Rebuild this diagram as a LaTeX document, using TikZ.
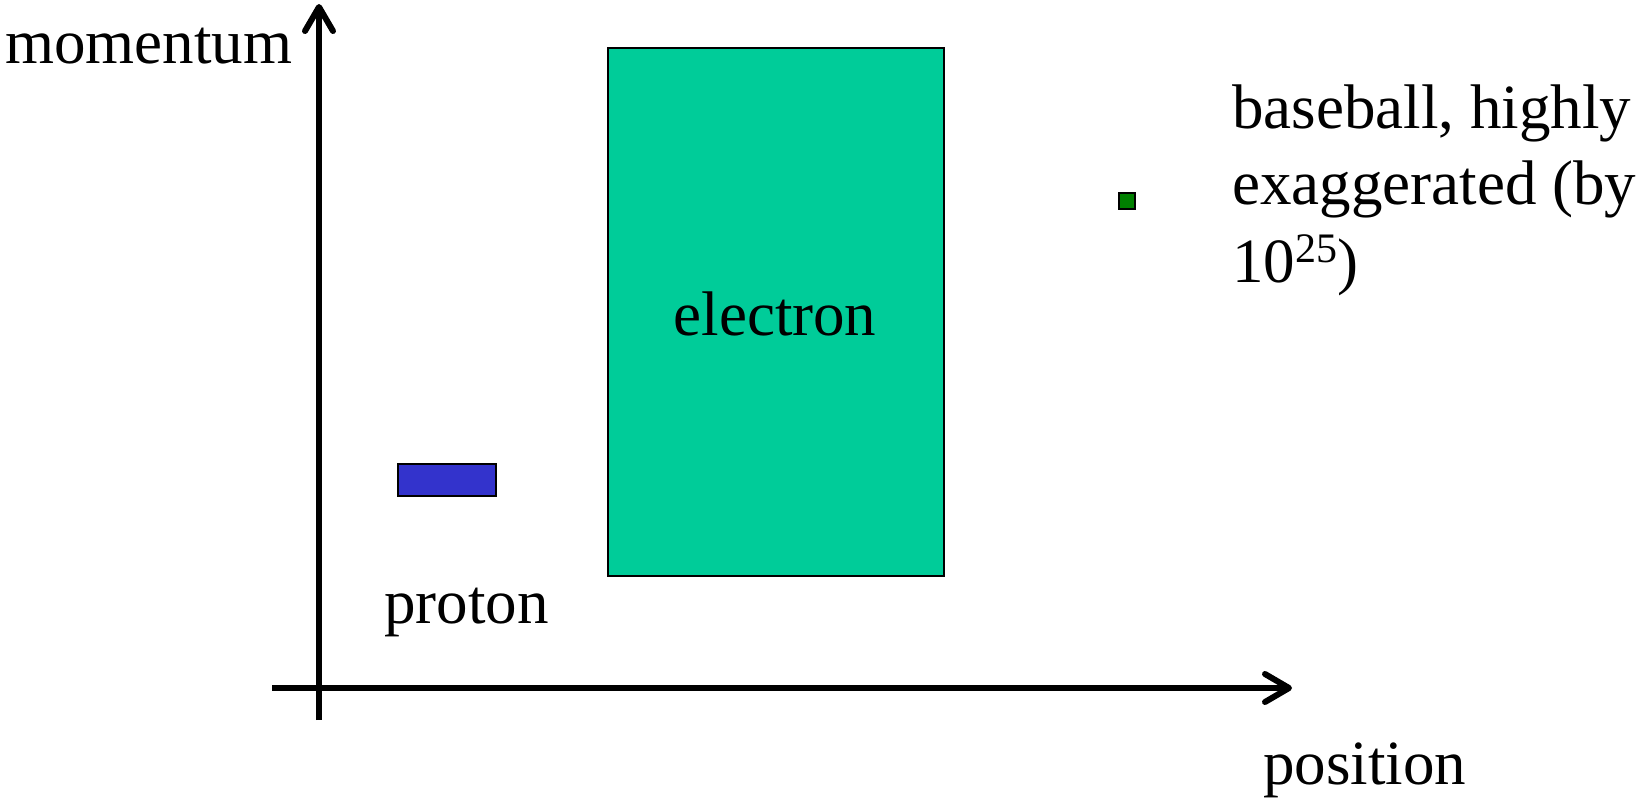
\documentclass[tikz,border=0pt]{standalone}
\usepackage{fontspec}
\setmainfont{Liberation Serif}
\usetikzlibrary{arrows.meta}
\definecolor{protonblue}{HTML}{3333CC}
\definecolor{electrongreen}{HTML}{00CC99}
\definecolor{ballgreen}{HTML}{008000}
\begin{document}
\begin{tikzpicture}[x=1pt,y=-1pt,
  axis/.style={line width=6pt,-{Straight Barb[length=24pt,width=28pt,line cap=round,line join=round]}},
  box/.style={draw=black,line width=1.5pt},
  lbl/.style={inner sep=0pt,anchor=base west,font=\fontsize{63}{76}\selectfont}]
\useasboundingbox (0,0) rectangle (1643,801);
% axes
\coordinate (ybot) at (319,720);
\coordinate (ytop) at (319,4);
\coordinate (xleft) at (272,688);
\coordinate (xright) at (1292,688);
\draw[axis] (ybot) -- (ytop);
\draw[axis] (xleft) -- (xright);
% boxes
\draw[box,fill=electrongreen] (608,48) rectangle (944,576);
\draw[box,fill=protonblue] (398,464) rectangle (496,496);
\draw[box,fill=ballgreen] (1119,193) rectangle (1135,209);
% labels
\node[lbl] (mom) at (5,63) {momentum};
\node[lbl] (pos) at (1263,784) {position};
\node[lbl] (pro) at (384,623) {proton};
\node[lbl,anchor=base] (ele) at (775,335) {electron};
\node[lbl] (b1) at (1232,128) {baseball, highly};
\node[lbl] (b2) at (1232,204) {exaggerated (by};
\node[lbl] (b3) at (1232,282) {10\raisebox{20pt}{\fontsize{42}{42}\selectfont 25})};
\end{tikzpicture}
\end{document}
